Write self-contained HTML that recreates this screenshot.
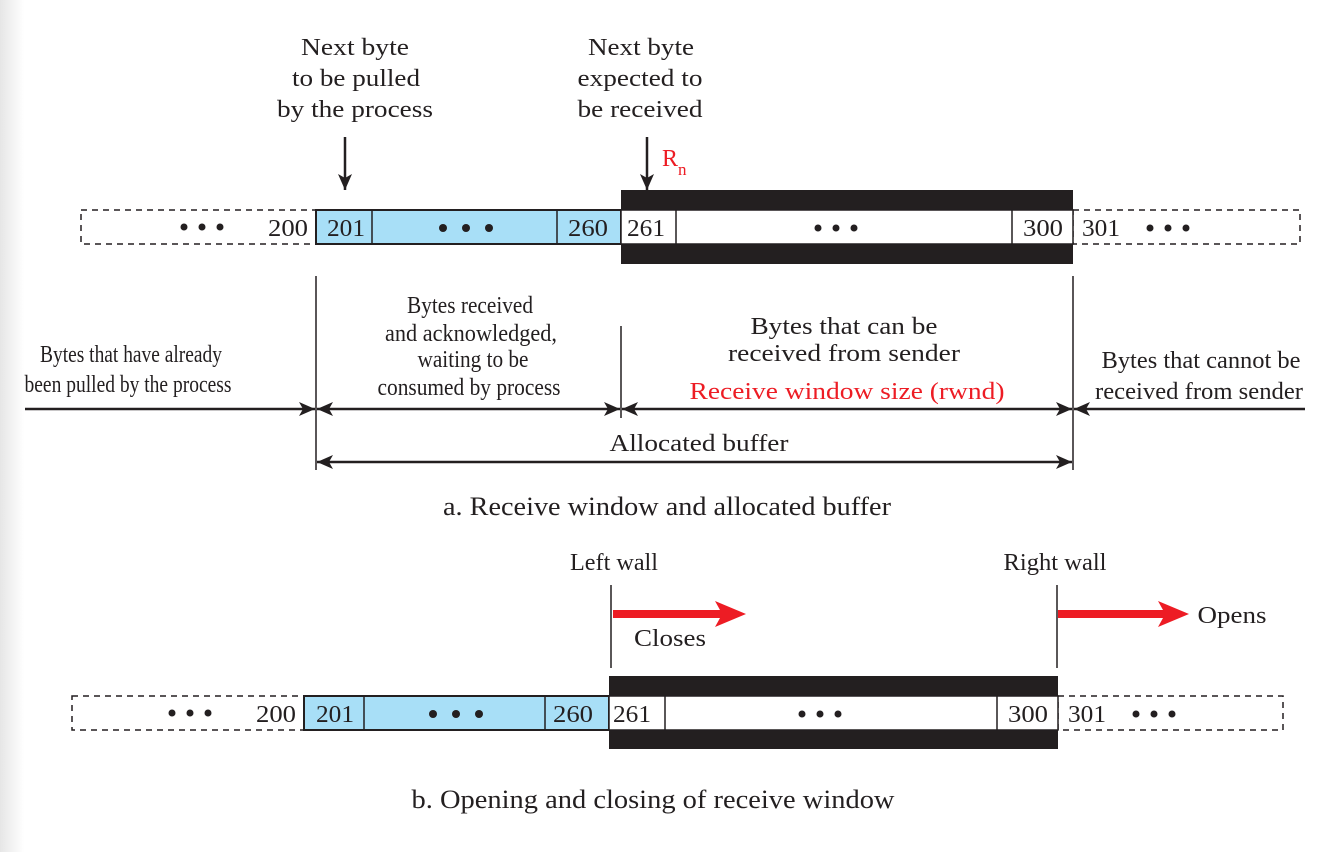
<!DOCTYPE html>
<html><head><meta charset="utf-8"><style>
html,body{margin:0;padding:0;width:1324px;height:852px;overflow:hidden;background:#fff}
svg{display:block}
text{font-family:"Liberation Serif",serif;font-size:24px;fill:#231f20}
</style></head><body>
<svg width="1324" height="852" viewBox="0 0 1324 852" xmlns="http://www.w3.org/2000/svg">
<defs>
<linearGradient id="lg" x1="0" x2="1" y1="0" y2="0"><stop offset="0" stop-color="#e6e6e6"/><stop offset="1" stop-color="#fff"/></linearGradient>
<marker id="ah" viewBox="0 0 16 14" refX="16" refY="7" markerWidth="16" markerHeight="14" markerUnits="userSpaceOnUse" orient="auto-start-reverse"><path d="M0,0 L16,7 L0,14 L4,7z" fill="#231f20"/></marker>
</defs>
<rect x="0" y="0" width="24" height="852" fill="url(#lg)"/>
<text x="355" y="55" text-anchor="middle" textLength="108" lengthAdjust="spacingAndGlyphs">Next byte</text>
<text x="356" y="86" text-anchor="middle" textLength="128" lengthAdjust="spacingAndGlyphs">to be pulled</text>
<text x="355" y="117" text-anchor="middle" textLength="156" lengthAdjust="spacingAndGlyphs">by the process</text>
<text x="641" y="55" text-anchor="middle" textLength="106" lengthAdjust="spacingAndGlyphs">Next byte</text>
<text x="640" y="86" text-anchor="middle" textLength="125" lengthAdjust="spacingAndGlyphs">expected to</text>
<text x="640" y="117" text-anchor="middle" textLength="125" lengthAdjust="spacingAndGlyphs">be received</text>
<line x1="345" y1="137" x2="345" y2="190" stroke="#231f20" stroke-width="2.5" marker-end="url(#ah)"/>
<line x1="647" y1="137" x2="647" y2="190" stroke="#231f20" stroke-width="2.5" marker-end="url(#ah)"/>
<text x="662" y="166" textLength="16" lengthAdjust="spacingAndGlyphs" style="fill:#ed1c24">R</text><text x="678" y="175" style="fill:#ed1c24;font-size:17px">n</text>

<rect x="81" y="210" width="235" height="34" fill="none" stroke="#231f20" stroke-width="1.5" stroke-dasharray="6,5"/>
<rect x="1073" y="210" width="227" height="34" fill="none" stroke="#231f20" stroke-width="1.5" stroke-dasharray="6,5"/>
<rect x="316" y="210" width="305" height="34" fill="#a8dff7" stroke="#231f20" stroke-width="2"/>
<line x1="372" y1="210" x2="372" y2="244" stroke="#231f20" stroke-width="1.5"/>
<line x1="557" y1="210" x2="557" y2="244" stroke="#231f20" stroke-width="1.5"/>
<rect x="621" y="190" width="452" height="20" fill="#231f20"/>
<rect x="621" y="244" width="452" height="20" fill="#231f20"/>
<rect x="621" y="210" width="452" height="34" fill="#fff" stroke="#231f20" stroke-width="1.5"/>
<line x1="676" y1="210" x2="676" y2="244" stroke="#231f20" stroke-width="1.5"/>
<line x1="1012" y1="210" x2="1012" y2="244" stroke="#231f20" stroke-width="1.5"/>
<text x="288" y="236" text-anchor="middle" textLength="40" lengthAdjust="spacingAndGlyphs">200</text>
<text x="346" y="236" text-anchor="middle" textLength="38" lengthAdjust="spacingAndGlyphs">201</text>
<text x="588" y="236" text-anchor="middle" textLength="40" lengthAdjust="spacingAndGlyphs">260</text>
<text x="646" y="236" text-anchor="middle" textLength="38" lengthAdjust="spacingAndGlyphs">261</text>
<text x="1043" y="236" text-anchor="middle" textLength="40" lengthAdjust="spacingAndGlyphs">300</text>
<text x="1101" y="236" text-anchor="middle" textLength="38" lengthAdjust="spacingAndGlyphs">301</text>
<g fill="#231f20">
<circle cx="184" cy="227" r="3.5"/><circle cx="202" cy="227" r="3.5"/><circle cx="220" cy="227" r="3.5"/>
<circle cx="443" cy="228" r="4"/><circle cx="466" cy="228" r="4"/><circle cx="489" cy="228" r="4"/>
<circle cx="818" cy="228" r="3.5"/><circle cx="836" cy="228" r="3.5"/><circle cx="854" cy="228" r="3.5"/>
<circle cx="1150" cy="228" r="3.5"/><circle cx="1168" cy="228" r="3.5"/><circle cx="1186" cy="228" r="3.5"/>
</g>

<g stroke="#231f20" stroke-width="1.5">
<line x1="316" y1="276" x2="316" y2="470"/>
<line x1="621" y1="326" x2="621" y2="418"/>
<line x1="1073" y1="276" x2="1073" y2="470"/>
</g>
<g stroke="#231f20" stroke-width="2.5">
<line x1="25" y1="409" x2="315" y2="409" marker-end="url(#ah)"/>
<line x1="317" y1="409" x2="620" y2="409" marker-start="url(#ah)" marker-end="url(#ah)"/>
<line x1="622" y1="409" x2="1072" y2="409" marker-start="url(#ah)" marker-end="url(#ah)"/>
<line x1="1305" y1="409" x2="1074" y2="409" marker-end="url(#ah)"/>
<line x1="317" y1="462" x2="1072" y2="462" marker-start="url(#ah)" marker-end="url(#ah)"/>
</g>
<text x="131" y="362" text-anchor="middle" textLength="182" lengthAdjust="spacingAndGlyphs">Bytes that have already</text>
<text x="128" y="392" text-anchor="middle" textLength="207" lengthAdjust="spacingAndGlyphs">been pulled by the process</text>
<text x="470" y="313" text-anchor="middle" textLength="126" lengthAdjust="spacingAndGlyphs">Bytes received</text>
<text x="471" y="341" text-anchor="middle" textLength="172" lengthAdjust="spacingAndGlyphs">and  acknowledged,</text>
<text x="473" y="367" text-anchor="middle" textLength="111" lengthAdjust="spacingAndGlyphs">waiting to be</text>
<text x="469" y="395" text-anchor="middle" textLength="183" lengthAdjust="spacingAndGlyphs">consumed by process</text>
<text x="844" y="334" text-anchor="middle" textLength="187" lengthAdjust="spacingAndGlyphs">Bytes that can be</text>
<text x="844" y="361" text-anchor="middle" textLength="232" lengthAdjust="spacingAndGlyphs">received from sender</text>
<text x="847" y="399" text-anchor="middle" textLength="315" lengthAdjust="spacingAndGlyphs" style="fill:#ed1c24">Receive window size (rwnd)</text>
<text x="1201" y="368" text-anchor="middle" textLength="199" lengthAdjust="spacingAndGlyphs">Bytes that cannot be</text>
<text x="1199" y="399" text-anchor="middle" textLength="208" lengthAdjust="spacingAndGlyphs">received from sender</text>
<text x="699" y="451" text-anchor="middle" textLength="179" lengthAdjust="spacingAndGlyphs">Allocated buffer</text>
<text x="667" y="515" text-anchor="middle" textLength="448" lengthAdjust="spacingAndGlyphs" style="font-size:26px">a. Receive window and allocated buffer</text>

<text x="614" y="570" text-anchor="middle" textLength="88" lengthAdjust="spacingAndGlyphs">Left wall</text>
<text x="1055" y="570" text-anchor="middle" textLength="103" lengthAdjust="spacingAndGlyphs">Right wall</text>
<line x1="611" y1="585" x2="611" y2="668" stroke="#231f20" stroke-width="1.5"/>
<line x1="1057" y1="585" x2="1057" y2="668" stroke="#231f20" stroke-width="1.5"/>
<path d="M613,610 L720,610 L715,601 L746,614 L715,627 L720,618 L613,618z" fill="#ed1c24"/>
<path d="M1058,610 L1163,610 L1158,601 L1189,614 L1158,627 L1163,618 L1058,618z" fill="#ed1c24"/>
<text x="670" y="646" text-anchor="middle" textLength="72" lengthAdjust="spacingAndGlyphs">Closes</text>
<text x="1232" y="623" text-anchor="middle" textLength="69" lengthAdjust="spacingAndGlyphs">Opens</text>

<rect x="72" y="696" width="232" height="34" fill="none" stroke="#231f20" stroke-width="1.5" stroke-dasharray="6,5"/>
<rect x="1058" y="696" width="225" height="34" fill="none" stroke="#231f20" stroke-width="1.5" stroke-dasharray="6,5"/>
<rect x="304" y="696" width="305" height="34" fill="#a8dff7" stroke="#231f20" stroke-width="2"/>
<line x1="364" y1="696" x2="364" y2="730" stroke="#231f20" stroke-width="1.5"/>
<line x1="545" y1="696" x2="545" y2="730" stroke="#231f20" stroke-width="1.5"/>
<rect x="609" y="676" width="449" height="20" fill="#231f20"/>
<rect x="609" y="730" width="449" height="19" fill="#231f20"/>
<rect x="609" y="696" width="449" height="34" fill="#fff" stroke="#231f20" stroke-width="1.5"/>
<line x1="665" y1="696" x2="665" y2="730" stroke="#231f20" stroke-width="1.5"/>
<line x1="997" y1="696" x2="997" y2="730" stroke="#231f20" stroke-width="1.5"/>
<text x="276" y="722" text-anchor="middle" textLength="40" lengthAdjust="spacingAndGlyphs">200</text>
<text x="335" y="722" text-anchor="middle" textLength="38" lengthAdjust="spacingAndGlyphs">201</text>
<text x="573" y="722" text-anchor="middle" textLength="40" lengthAdjust="spacingAndGlyphs">260</text>
<text x="632" y="722" text-anchor="middle" textLength="38" lengthAdjust="spacingAndGlyphs">261</text>
<text x="1028" y="722" text-anchor="middle" textLength="40" lengthAdjust="spacingAndGlyphs">300</text>
<text x="1087" y="722" text-anchor="middle" textLength="38" lengthAdjust="spacingAndGlyphs">301</text>
<g fill="#231f20">
<circle cx="172" cy="713" r="3.5"/><circle cx="190" cy="713" r="3.5"/><circle cx="208" cy="713" r="3.5"/>
<circle cx="433" cy="714" r="4"/><circle cx="456" cy="714" r="4"/><circle cx="479" cy="714" r="4"/>
<circle cx="802" cy="714" r="3.5"/><circle cx="820" cy="714" r="3.5"/><circle cx="838" cy="714" r="3.5"/>
<circle cx="1136" cy="714" r="3.5"/><circle cx="1154" cy="714" r="3.5"/><circle cx="1172" cy="714" r="3.5"/>
</g>
<text x="653" y="808" text-anchor="middle" textLength="483" lengthAdjust="spacingAndGlyphs" style="font-size:26px">b. Opening and  closing of receive window</text>
</svg>
</body></html>
